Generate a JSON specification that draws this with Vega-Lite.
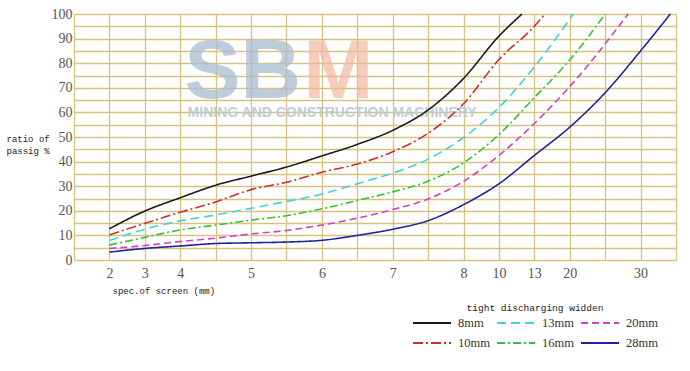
{
  "$schema": "https://vega.github.io/schema/vega-lite/v6.json",
  "width": 602,
  "height": 246,
  "autosize": {"type": "none"},
  "padding": {"left": 74, "top": 14, "right": 14, "bottom": 111},
  "background": "white",
  "config": {"view": {"stroke": null}},
  "datasets": {
    "curves": [
      {"s": "8mm", "p": 1, "v": 12.7}, {"s": "8mm", "p": 2, "v": 19.9}, {"s": "8mm", "p": 3, "v": 25.3}, {"s": "8mm", "p": 4, "v": 30.4}, {"s": "8mm", "p": 5, "v": 34.1}, {"s": "8mm", "p": 6, "v": 37.8}, {"s": "8mm", "p": 7, "v": 42.3}, {"s": "8mm", "p": 8, "v": 47}, {"s": "8mm", "p": 9, "v": 52.7}, {"s": "8mm", "p": 10, "v": 61}, {"s": "8mm", "p": 11, "v": 73.8}, {"s": "8mm", "p": 12, "v": 91}, {"s": "8mm", "p": 12.65, "v": 100},
      {"s": "10mm", "p": 1, "v": 10.2}, {"s": "10mm", "p": 2, "v": 14.9}, {"s": "10mm", "p": 3, "v": 19.4}, {"s": "10mm", "p": 4, "v": 23.6}, {"s": "10mm", "p": 5, "v": 28.6}, {"s": "10mm", "p": 6, "v": 31.6}, {"s": "10mm", "p": 7, "v": 35.7}, {"s": "10mm", "p": 8, "v": 39}, {"s": "10mm", "p": 9, "v": 44}, {"s": "10mm", "p": 10, "v": 51.5}, {"s": "10mm", "p": 11, "v": 63.5}, {"s": "10mm", "p": 12, "v": 81.5}, {"s": "10mm", "p": 13, "v": 95}, {"s": "10mm", "p": 13.3, "v": 100},
      {"s": "13mm", "p": 1, "v": 7.9}, {"s": "13mm", "p": 2, "v": 12.5}, {"s": "13mm", "p": 3, "v": 15.9}, {"s": "13mm", "p": 4, "v": 18.3}, {"s": "13mm", "p": 5, "v": 21}, {"s": "13mm", "p": 6, "v": 23.8}, {"s": "13mm", "p": 7, "v": 26.8}, {"s": "13mm", "p": 8, "v": 31}, {"s": "13mm", "p": 9, "v": 35.3}, {"s": "13mm", "p": 10, "v": 41}, {"s": "13mm", "p": 11, "v": 49.8}, {"s": "13mm", "p": 12, "v": 62}, {"s": "13mm", "p": 13, "v": 78.5}, {"s": "13mm", "p": 14.1, "v": 100},
      {"s": "16mm", "p": 1, "v": 6.1}, {"s": "16mm", "p": 2, "v": 9.2}, {"s": "16mm", "p": 3, "v": 12.2}, {"s": "16mm", "p": 4, "v": 14.2}, {"s": "16mm", "p": 5, "v": 16.2}, {"s": "16mm", "p": 6, "v": 18}, {"s": "16mm", "p": 7, "v": 20.8}, {"s": "16mm", "p": 8, "v": 24.2}, {"s": "16mm", "p": 9, "v": 27.7}, {"s": "16mm", "p": 10, "v": 32}, {"s": "16mm", "p": 11, "v": 39.5}, {"s": "16mm", "p": 12, "v": 51}, {"s": "16mm", "p": 13, "v": 66}, {"s": "16mm", "p": 14, "v": 81.3}, {"s": "16mm", "p": 15, "v": 100},
      {"s": "20mm", "p": 1, "v": 4.7}, {"s": "20mm", "p": 2, "v": 5.9}, {"s": "20mm", "p": 3, "v": 7.5}, {"s": "20mm", "p": 4, "v": 8.9}, {"s": "20mm", "p": 5, "v": 10.6}, {"s": "20mm", "p": 6, "v": 12}, {"s": "20mm", "p": 7, "v": 14.2}, {"s": "20mm", "p": 8, "v": 17}, {"s": "20mm", "p": 9, "v": 20.5}, {"s": "20mm", "p": 10, "v": 24.8}, {"s": "20mm", "p": 11, "v": 32}, {"s": "20mm", "p": 12, "v": 42.5}, {"s": "20mm", "p": 13, "v": 55.5}, {"s": "20mm", "p": 14, "v": 70.5}, {"s": "20mm", "p": 15.65, "v": 100},
      {"s": "28mm", "p": 1, "v": 3.2}, {"s": "28mm", "p": 2, "v": 4.7}, {"s": "28mm", "p": 3, "v": 5.7}, {"s": "28mm", "p": 4, "v": 6.7}, {"s": "28mm", "p": 5, "v": 7}, {"s": "28mm", "p": 6, "v": 7.3}, {"s": "28mm", "p": 7, "v": 8}, {"s": "28mm", "p": 8, "v": 10}, {"s": "28mm", "p": 9, "v": 12.5}, {"s": "28mm", "p": 10, "v": 16}, {"s": "28mm", "p": 11, "v": 22.5}, {"s": "28mm", "p": 12, "v": 31}, {"s": "28mm", "p": 13, "v": 42.5}, {"s": "28mm", "p": 14, "v": 54}, {"s": "28mm", "p": 15, "v": 68}, {"s": "28mm", "p": 16, "v": 85}, {"s": "28mm", "p": 16.84, "v": 100}
    ]
  },
  "encoding": {
    "x": {
      "field": "p", "type": "quantitative",
      "scale": {"domain": [0, 17], "nice": false, "zero": false},
      "axis": {
        "values": [0, 1, 2, 3, 4, 5, 6, 7, 8, 9, 10, 11, 12, 13, 14, 15, 16, 17],
        "labelExpr": "['','2','3','4','','5','','6','','7','','8','10','13','20','','30',''][datum.value]",
        "grid": true, "gridColor": "#d6c283", "gridWidth": 1.3,
        "domain": false, "ticks": false,
        "labelFont": "Liberation Serif", "labelFontSize": 14, "labelColor": "#555",
        "labelPadding": 6, "labelOverlap": false, "labelFlush": false,
        "title": "spec.of screen (mm)",
        "titleFont": "Liberation Mono", "titleFontSize": 9, "titleFontWeight": "normal", "titleColor": "#222",
        "titleAlign": "left", "titleAnchor": "start", "titleX": 38, "titleY": 30, "titleBaseline": "middle"
      }
    },
    "y": {
      "field": "v", "type": "quantitative",
      "scale": {"domain": [0, 100], "nice": false},
      "axis": {
        "values": [0, 5, 10, 15, 20, 25, 30, 35, 40, 45, 50, 55, 60, 65, 70, 75, 80, 85, 90, 95, 100],
        "labelExpr": "datum.value % 10 == 0 ? datum.label : ''",
        "grid": true, "gridColor": "#d6c283", "gridWidth": 1.3,
        "domain": false, "ticks": false,
        "labelFont": "Liberation Serif", "labelFontSize": 14, "labelColor": "#555",
        "labelPadding": 2, "labelOverlap": false, "labelFlush": false,
        "title": ["ratio of", "passig %"],
        "titleFont": "Liberation Mono", "titleFontSize": 9, "titleFontWeight": "normal", "titleColor": "#222",
        "titleAngle": 0, "titleAlign": "left", "titleBaseline": "top", "titleX": -68, "titleY": 120, "titleLineHeight": 12
      }
    }
  },
  "layer": [
    {
      "data": {"values": [{"t": "SB", "p": 4.77, "v": 76}]},
      "mark": {"type": "text", "font": "Liberation Sans", "fontWeight": "bold", "fontSize": 84, "color": "#a9bdd0", "opacity": 0.75, "align": "center", "baseline": "middle"},
      "encoding": {"text": {"field": "t"}}
    },
    {
      "data": {"values": [{"t": "M", "p": 7.46, "v": 76}]},
      "mark": {"type": "text", "font": "Liberation Sans", "fontWeight": "bold", "fontSize": 84, "color": "#f0b9a0", "opacity": 0.7, "align": "center", "baseline": "middle"},
      "encoding": {"text": {"field": "t"}}
    },
    {
      "data": {"values": [{"t": "MINING AND CONSTRUCTION MACHINERY", "p": 7.29, "v": 59.8}]},
      "mark": {"type": "text", "font": "Liberation Sans", "fontWeight": "bold", "fontSize": 14, "color": "#bcc8d6", "opacity": 0.9, "align": "center", "baseline": "middle"},
      "encoding": {"text": {"field": "t"}}
    },
    {
      "data": {"name": "curves"},
      "mark": {"type": "line", "interpolate": "monotone", "strokeWidth": 1.6},
      "encoding": {
        "color": {
          "field": "s", "type": "nominal",
          "scale": {
            "domain": ["8mm", "13mm", "20mm", "10mm", "16mm", "28mm"],
            "range": ["#1a1a1a", "#3fd3e0", "#cf42c8", "#c8322c", "#33c233", "#23239c"]
          },
          "legend": {
            "orient": "none", "legendX": 338, "legendY": 288.5, "direction": "horizontal", "columns": 3,
            "title": "tight discharging widden",
            "titleFont": "Liberation Mono", "titleFontSize": 9.5, "titleFontWeight": "normal", "titleColor": "#222",
            "titleAnchor": "middle", "titlePadding": 3.5,
            "labelFont": "Liberation Serif", "labelFontSize": 12.5, "labelColor": "#333", "labelOffset": 6,
            "symbolType": "stroke", "symbolSize": 1444, "symbolStrokeWidth": 2,
            "clipHeight": 15,
            "columnPadding": 6, "rowPadding": 5
          }
        },
        "strokeDash": {
          "field": "s", "type": "nominal",
          "scale": {
            "domain": ["8mm", "13mm", "20mm", "10mm", "16mm", "28mm"],
            "range": [[1, 0], [9, 5], [7, 4], [10, 3, 2, 3], [8, 3, 2, 3], [1, 0]]
          },
          "legend": {
            "orient": "none", "legendX": 338, "legendY": 288.5, "direction": "horizontal", "columns": 3,
            "title": "tight discharging widden",
            "titleFont": "Liberation Mono", "titleFontSize": 9.5, "titleFontWeight": "normal", "titleColor": "#222",
            "titleAnchor": "middle", "titlePadding": 3.5,
            "labelFont": "Liberation Serif", "labelFontSize": 12.5, "labelColor": "#333", "labelOffset": 6,
            "symbolType": "stroke", "symbolSize": 1444, "symbolStrokeWidth": 2,
            "clipHeight": 15,
            "columnPadding": 6, "rowPadding": 5
          }
        }
      }
    }
  ]
}
